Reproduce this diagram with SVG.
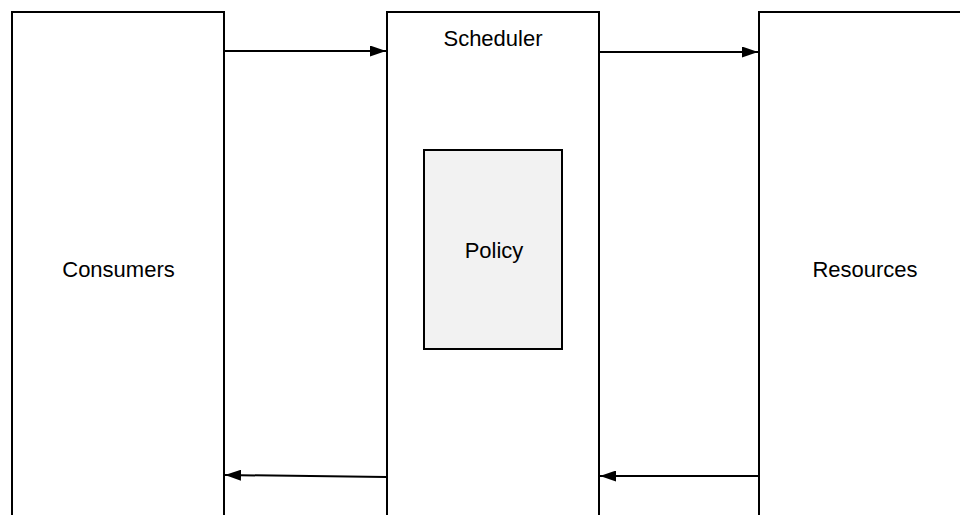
<svg xmlns="http://www.w3.org/2000/svg" width="960" height="515" viewBox="0 0 960 515">
  <style>
    .box { fill: #ffffff; stroke: #000000; stroke-width: 2; }
    .inner { fill: #f2f2f2; stroke: #000000; stroke-width: 2; }
    .label { font-family: "Liberation Sans", Arial, sans-serif; font-size: 22px; fill: #000000; text-anchor: middle; }
    .edge { fill: none; stroke: #000000; stroke-width: 2; }
  </style>
  <defs>
    <marker id="arrow" viewBox="0 0 16 11" refX="16" refY="5.5" markerWidth="16" markerHeight="11" markerUnits="userSpaceOnUse" orient="auto">
      <path d="M0,0 L16,5.5 L0,11 Z" fill="#000000"/>
    </marker>
  </defs>
  <rect width="960" height="515" fill="#ffffff"/>

  <g id="consumers">
    <rect class="box" x="12" y="12" width="212" height="520"/>
    <text class="label" x="118.5" y="277">Consumers</text>
  </g>

  <g id="scheduler">
    <rect class="box" x="387" y="12" width="212" height="520"/>
    <text class="label" x="493" y="46">Scheduler</text>
  </g>

  <g id="policy">
    <rect class="inner" x="424" y="150" width="138" height="199"/>
    <text class="label" x="494" y="258">Policy</text>
  </g>

  <g id="resources">
    <rect class="box" x="759" y="12" width="220" height="520"/>
    <text class="label" x="865" y="277">Resources</text>
  </g>

  <g id="connectors">
    <path class="edge" d="M224,51 L386,51" marker-end="url(#arrow)"/>
    <path class="edge" d="M599,52 L758,52" marker-end="url(#arrow)"/>
    <path class="edge" d="M386,477 L225,475" marker-end="url(#arrow)"/>
    <path class="edge" d="M759,476 L600,476" marker-end="url(#arrow)"/>
  </g>
</svg>
